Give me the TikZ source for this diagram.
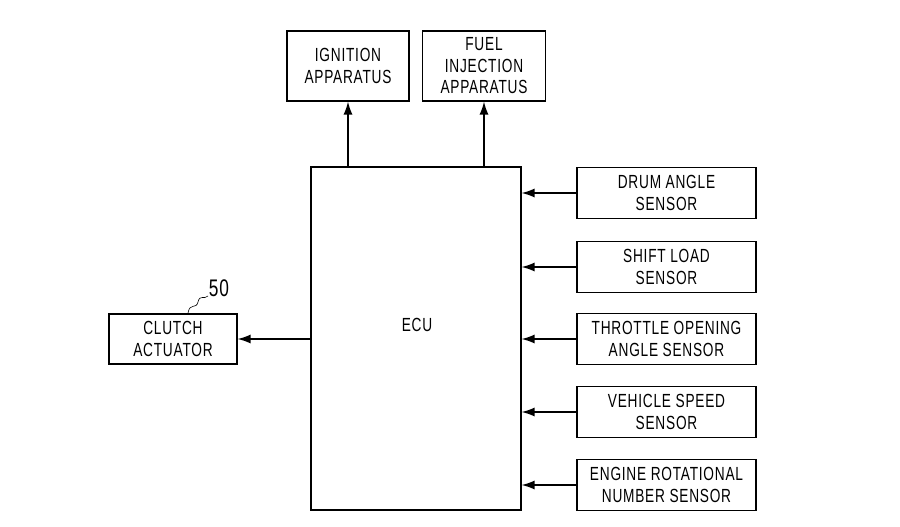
\documentclass[tikz,border=0pt]{standalone}
\usepackage{fontspec}
\setmainfont{Liberation Sans}[FakeStretch=0.72,LetterSpace=4]
\usetikzlibrary{arrows.meta,decorations.pathmorphing}
\begin{document}
\begin{tikzpicture}[x=1pt,y=-1pt,
  blk/.style={draw,line width=1.2pt,inner sep=0pt,align=center,font=\fontsize{19}{21.5}\selectfont},
  conn/.style={line width=1.3pt,-{Latex[length=13pt,width=9pt]}}]
\useasboundingbox (0,0) rectangle (900,527);
\node[blk,minimum width=210pt,minimum height=343pt] (ecu) at (416,338.5) {};
\node[font=\fontsize{19}{21}\selectfont] (ecut) at (417,325) {ECU};
\node[blk,minimum width=122pt,minimum height=70pt] (ign) at (348,66) {IGNITION\\APPARATUS};
\node[blk,minimum width=123pt,minimum height=70pt] (fuel) at (484,66) {FUEL\\INJECTION\\APPARATUS};
\node[blk,minimum width=179pt,minimum height=51pt] (drum) at (666.5,193) {DRUM ANGLE\\SENSOR};
\node[blk,minimum width=179pt,minimum height=51pt] (shift) at (666.5,267) {SHIFT LOAD\\SENSOR};
\node[blk,minimum width=179pt,minimum height=51pt] (thr) at (666.5,339) {THROTTLE OPENING\\ANGLE SENSOR};
\node[blk,minimum width=179pt,minimum height=51pt] (veh) at (666.5,412) {VEHICLE SPEED\\SENSOR};
\node[blk,minimum width=179pt,minimum height=51pt] (eng) at (666.5,485) {ENGINE ROTATIONAL\\NUMBER SENSOR};
\node[blk,minimum width=128pt,minimum height=50pt] (clutch) at (173,339) {CLUTCH\\ACTUATOR};
\node[font=\fontsize{24}{26}\selectfont] (lbl) at (219,288) {50};
\coordinate (lead) at (188,313);
\draw[conn] (ecu.north -| ign) -- (ign.south);
\draw[conn] (ecu.north -| fuel) -- (fuel.south);
\foreach \s in {drum,shift,thr,veh,eng}
  \draw[conn] (\s.west) -- (\s.west -| ecu.east);
\draw[conn] (clutch.east -| ecu.west) -- (clutch.east);
\draw[line width=0.6pt] (lead) .. controls (190,302) and (196,310) .. (198,302) .. controls (200,294) and (204,300) .. (208,296);
\end{tikzpicture}
\end{document}
